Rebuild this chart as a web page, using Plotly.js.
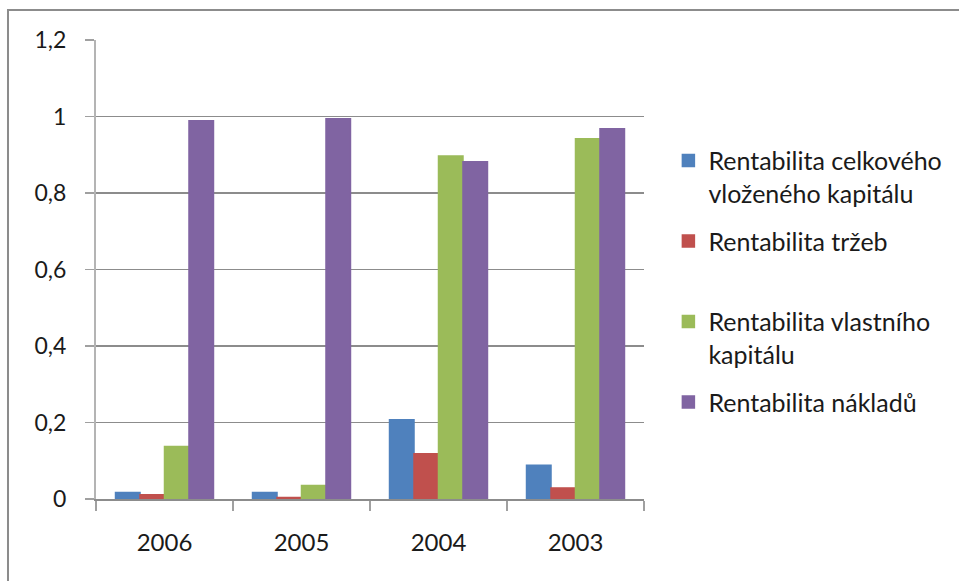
<!DOCTYPE html>
<html>
<head>
<meta charset="utf-8">
<script src="https://cdn.plot.ly/plotly-3.0.1.min.js"></script>
<style>
  html, body { margin: 0; padding: 0; background: #fff; }
  #chart { width: 959px; height: 581px; }
</style>
</head>
<body>
<div id="chart"></div>
<script>
// Years shown on the category axis
const years = ['2006', '2005', '2004', '2003'];

// Profitability ratios per year
const rentCelkovehoKapitalu = [0.017, 0.017, 0.207, 0.088];
const rentTrzeb = [0.011, 0.004, 0.118, 0.029];
const rentVlastnihoKapitalu = [0.137, 0.035, 0.897, 0.942];
const rentNakladu = [0.989, 0.994, 0.882, 0.968];

// Legend labels (each padded to two lines so entries sit evenly)
const seriesNames = [
  'Rentabilita celkového<br>vloženého kapitálu',
  'Rentabilita tržeb<br>\u00a0',
  'Rentabilita vlastního<br>kapitálu',
  'Rentabilita nákladů<br>\u00a0'
];
const seriesValues = [rentCelkovehoKapitalu, rentTrzeb, rentVlastnihoKapitalu, rentNakladu];
const seriesColors = ['#4F81BD', '#C0504D', '#9BBB59', '#8064A2'];

const fontFamily = 'Lato, "Open Sans", sans-serif';

const traces = seriesValues.map((vals, i) => ({
  type: 'bar',
  x: years,
  y: vals,
  name: seriesNames[i],
  legendgroup: 'g' + i,
  marker: { color: seriesColors[i], line: { width: 1.5, color: seriesColors[i] } },
  hoverinfo: 'none'
}));

const layout = {
  width: 959,
  height: 581,
  margin: { l: 96, r: 315, t: 40, b: 82 },
  paper_bgcolor: '#ffffff',
  plot_bgcolor: '#ffffff',
  separators: ', ',
  barmode: 'group',
  bargap: 0.285,
  bargroupgap: 0,
  font: { family: fontFamily, size: 23, color: '#1a1a1a' },
  xaxis: {
    type: 'category',
    showgrid: false,
    showline: true,
    linecolor: '#8c8c8c',
    linewidth: 1.5,
    ticks: 'outside',
    tickson: 'boundaries',
    ticklen: 10,
    tickwidth: 1.5,
    tickcolor: '#a0a0a0',
    ticklabelstandoff: 22,
    tickfont: { family: fontFamily, size: 24, color: '#1a1a1a' },
    zeroline: false,
    fixedrange: true
  },
  yaxis: {
    range: [0, 1.2],
    dtick: 0.2,
    tick0: 0,
    showgrid: true,
    gridcolor: '#8c8c8c',
    gridwidth: 1.5,
    showline: true,
    linecolor: '#b4b4b4',
    linewidth: 2,
    ticks: 'outside',
    ticklen: 9,
    tickwidth: 1.5,
    tickcolor: '#a0a0a0',
    ticklabelstandoff: 14,
    tickfont: { family: fontFamily, size: 23, color: '#1a1a1a' },
    zeroline: false,
    fixedrange: true
  },
  showlegend: true,
  legend: {
    x: 1.0445,
    xanchor: 'left',
    y: 0.787,
    yanchor: 'top',
    traceorder: 'grouped',
    tracegroupgap: 12.5,
    valign: 'top',
    font: { family: fontFamily, size: 25, color: '#1a1a1a' },
    bgcolor: 'rgba(0,0,0,0)',
    borderwidth: 0
  },
  shapes: [
    {
      type: 'rect',
      xref: 'paper', yref: 'paper',
      x0: -0.1606, x1: 1.8,
      y0: -0.5, y1: 1.0654,
      line: { color: '#8c8c8c', width: 2 },
      fillcolor: 'rgba(0,0,0,0)',
      layer: 'below'
    }
  ]
};

Plotly.newPlot('chart', traces, layout, { staticPlot: true, displayModeBar: false });
</script>
</body>
</html>
